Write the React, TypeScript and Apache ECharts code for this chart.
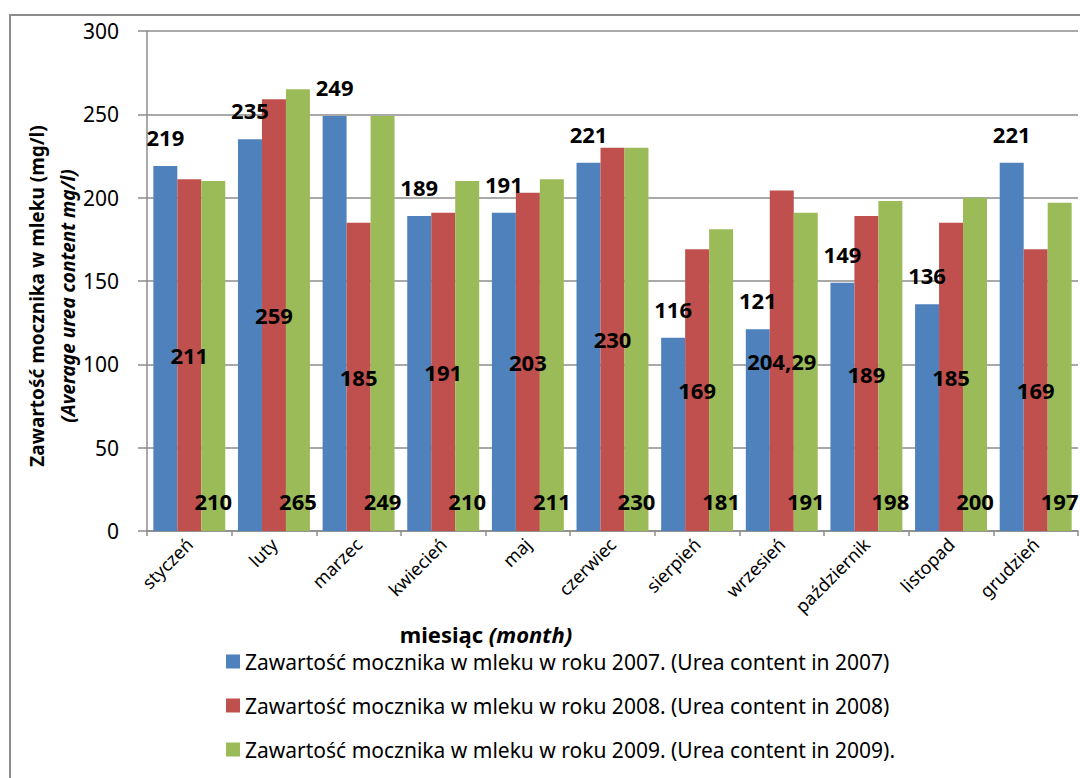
import React, { useEffect, useRef } from "react";
import * as echarts from "echarts";

const months = ["styczeń", "luty", "marzec", "kwiecień", "maj", "czerwiec", "sierpień", "wrzesień", "październik", "listopad", "grudzień"];
const urea2007 = [219, 235, 249, 189, 191, 221, 116, 121, 149, 136, 221];
const urea2008 = [211, 259, 185, 191, 203, 230, 169, 204.29, 189, 185, 169];
const urea2009 = [210, 265, 249, 210, 211, 230, 181, 191, 198, 200, 197];
const seriesNames = [
  "Zawartość mocznika w mleku w roku 2007. (Urea content in 2007)",
  "Zawartość mocznika w mleku w roku 2008. (Urea content in 2008)",
  "Zawartość mocznika w mleku w roku 2009. (Urea content in 2009).",
];
const colors = ["#4F81BD", "#C0504D", "#9BBB59"];

const FONT = "'Noto Sans', 'DejaVu Sans', sans-serif";
const GRID = "#8c8c8c";

export default function App() {
  const ref = useRef<HTMLDivElement>(null);
  useEffect(() => {
    if (!ref.current) return;
    const chart = echarts.init(ref.current, null, { renderer: "svg" });
    const fmt = (p: any) => String(p.value).replace(".", ",");
    const labelBase = {
      show: true,
      color: "#000",
      fontFamily: FONT,
      fontWeight: "bold" as const,
      fontSize: 22,
      formatter: fmt,
    };
    const positions = [
      { position: "top", distance: 18 },
      { position: "inside", distance: 0 },
      { position: "insideBottom", distance: 19 },
    ];
    const datas = [urea2007, urea2008, urea2009];
    chart.setOption({
      animation: false,
      backgroundColor: "#fff",
      textStyle: { fontFamily: FONT },
      grid: { left: 147, right: 2, top: 31, bottom: 247, containLabel: false },
      legend: {
        orient: "vertical",
        left: 221,
        top: 646,
        itemWidth: 14,
        itemHeight: 14,
        itemGap: 23,
        icon: "rect",
        textStyle: { fontFamily: FONT, fontSize: 21, color: "#000" },
        data: seriesNames,
      },
      xAxis: {
        type: "category",
        data: months,
        boundaryGap: true,
        axisLine: { show: true, lineStyle: { color: GRID, width: 1.5 } },
        axisTick: { show: true, length: 5, alignWithLabel: false, interval: 0, lineStyle: { color: GRID, width: 1.5 } },
        axisLabel: { interval: 0, rotate: 45, fontSize: 18, color: "#000", fontFamily: FONT, margin: 10 },
        splitLine: { show: false },
      },
      yAxis: {
        type: "value",
        min: 0,
        max: 300,
        interval: 50,
        axisLine: { show: true, lineStyle: { color: GRID, width: 1.5 } },
        axisTick: { show: true, length: 9, lineStyle: { color: GRID, width: 1.5 } },
        axisLabel: { fontSize: 21, color: "#000", fontFamily: FONT, margin: 28 },
        splitLine: { show: true, lineStyle: { color: GRID, width: 1.5 } },
      },
      series: datas.map((d, i) => ({
        name: seriesNames[i],
        type: "bar",
        data: d,
        barGap: "0%",
        barCategoryGap: "15%",
        itemStyle: { color: colors[i] },
        label: { ...labelBase, ...positions[i] },
      })),
      graphic: [
        {
          type: "rect",
          shape: { x: 10, y: 15, width: 1200, height: 900 },
          style: { fill: "none", stroke: GRID, lineWidth: 2 },
          silent: true,
          z: -1,
        },
        {
          type: "text",
          x: 52,
          y: 296,
          rotation: Math.PI / 2,
          style: {
            text: "{a|Zawartość mocznika w mleku (mg/l)}\n{b|(Average urea content mg/l)}",
            align: "center",
            verticalAlign: "middle",
            rich: {
              a: { fontFamily: FONT, fontSize: 19, fontWeight: "bold", fill: "#000", lineHeight: 31 },
              b: { fontFamily: FONT, fontSize: 19, fontWeight: "bold", fontStyle: "italic", fill: "#000", lineHeight: 31 },
            },
          },
        },
        {
          type: "text",
          x: 486,
          y: 634,
          style: {
            text: "{a|miesiąc }{b|(month)}",
            align: "center",
            verticalAlign: "middle",
            rich: {
              a: { fontFamily: FONT, fontSize: 22, fontWeight: "bold", fill: "#000" },
              b: { fontFamily: FONT, fontSize: 22, fontWeight: "bold", fontStyle: "italic", fill: "#000" },
            },
          },
        },
      ],
    });
    return () => chart.dispose();
  }, []);
  return (
    <div
      ref={ref}
      style={{ position: "absolute", left: 0, top: 0, width: 1080, height: 778, background: "#fff" }}
    />
  );
}
